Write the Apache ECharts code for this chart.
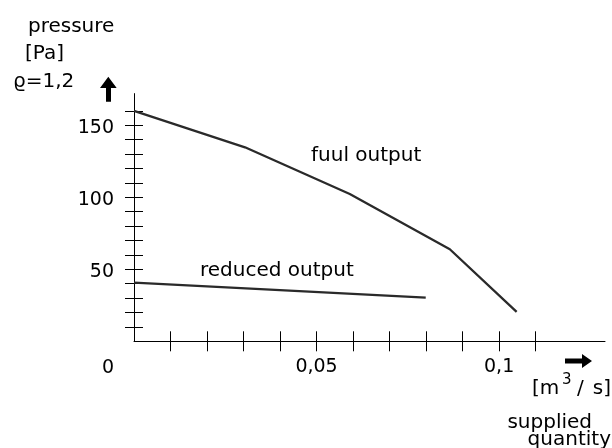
<!DOCTYPE html>
<html>
<head>
<meta charset="utf-8">
<script src="https://cdn.jsdelivr.net/npm/echarts@6/dist/echarts.min.js"></script>
<style>html,body{margin:0;padding:0;background:#fff}#c{width:612px;height:448px}</style>
</head>
<body>
<div id="c"></div>
<script>
// Data
var fullFlow = [0, 0.0304, 0.0591, 0.0865, 0.1048];
var fullPressure = [160, 134.7, 102.3, 63.9, 20.4];
var reducedFlow = [0, 0.0799];
var reducedPressure = [40.7, 30.3];
var yTicks = [10,20,30,40,50,60,70,80,90,100,110,120,130,140,150,160];
var yLabels = [50, 100, 150];
var xTicks = [0.01,0.02,0.03,0.04,0.05,0.06,0.07,0.08,0.09,0.1,0.11];
var xLabels = [0.05, 0.1];

var FONT = 'DejaVu Sans';
var chart = echarts.init(document.getElementById('c'), null, {renderer: 'canvas'});

function pairs(xs, ys) { return xs.map(function (x, i) { return [x, ys[i]]; }); }

var lineStyleAxis = {color: '#000', width: 1};
function T(extra) { return Object.assign({fontFamily: FONT, fontSize: 20, fill: '#000'}, extra); }

chart.setOption({
  animation: false,
  backgroundColor: '#fff',
  grid: {left: 134, right: 7, top: 93.6, bottom: 106.7},
  xAxis: [
    {type: 'value', min: 0, max: 0.129, position: 'bottom',
     axisLine: {show: true, lineStyle: lineStyleAxis},
     axisTick: {show: true, inside: false, length: 10, customValues: xTicks, lineStyle: lineStyleAxis},
     axisLabel: {show: true, customValues: xLabels, margin: 16, fontFamily: FONT, fontSize: 19, color: '#000',
       formatter: function (v) { return String(+v.toFixed(3)).replace('.', ','); }},
     splitLine: {show: false}},
    {type: 'value', min: 0, max: 0.129, position: 'bottom', offset: 0,
     axisLine: {show: false},
     axisTick: {show: true, inside: true, length: 10, customValues: xTicks, lineStyle: lineStyleAxis},
     axisLabel: {show: false}, splitLine: {show: false}}
  ],
  yAxis: [
    {type: 'value', min: 0, max: 172, position: 'left',
     axisLine: {show: true, lineStyle: lineStyleAxis},
     axisTick: {show: true, inside: false, length: 9, customValues: yTicks, lineStyle: lineStyleAxis},
     axisLabel: {show: true, customValues: yLabels, margin: 20, fontFamily: FONT, fontSize: 19, color: '#000',
       formatter: function (v) { return '{a|' + v + '}'; },
       rich: {a: {fontFamily: FONT, fontSize: 19, color: '#000', padding: [6, 0, 0, 0]}}},
     splitLine: {show: false}},
    {type: 'value', min: 0, max: 172, position: 'left', offset: 0,
     axisLine: {show: false},
     axisTick: {show: true, inside: true, length: 9, customValues: yTicks, lineStyle: lineStyleAxis},
     axisLabel: {show: false}, splitLine: {show: false}}
  ],
  series: [
    {type: 'line', name: 'fuul output', data: pairs(fullFlow, fullPressure), symbol: 'none',
     lineStyle: {color: '#2a2a2a', width: 2.3}},
    {type: 'line', name: 'reduced output', data: pairs(reducedFlow, reducedPressure), symbol: 'none',
     lineStyle: {color: '#2a2a2a', width: 2.3}}
  ],
  graphic: [
    {type: 'text', x: 28, y: 27, style: T({text: 'pressure', verticalAlign: 'middle'})},
    {type: 'text', x: 25, y: 54, style: T({text: '[Pa]', verticalAlign: 'middle'})},
    {type: 'text', x: 13, y: 82, style: T({text: 'ϱ=1,2', verticalAlign: 'middle'})},
    {type: 'text', x: 108, y: 368, style: T({text: '0', fontSize: 19, align: 'center', verticalAlign: 'middle'})},
    {type: 'text', x: 311, y: 156, style: T({text: 'fuul output', verticalAlign: 'middle'})},
    {type: 'text', x: 200, y: 271, style: T({text: 'reduced output', verticalAlign: 'middle'})},
    {type: 'text', x: 532, y: 389, style: T({text: '[m', verticalAlign: 'middle'})},
    {type: 'text', x: 562, y: 380, style: T({text: '3', fontSize: 15, verticalAlign: 'middle'})},
    {type: 'text', x: 577, y: 389, style: T({text: '/', verticalAlign: 'middle'})},
    {type: 'text', x: 611, y: 389, style: T({text: 's]', align: 'right', verticalAlign: 'middle'})},
    {type: 'text', x: 592, y: 423, style: T({text: 'supplied', align: 'right', verticalAlign: 'middle'})},
    {type: 'text', x: 611, y: 440, style: T({text: 'quantity', align: 'right', verticalAlign: 'middle'})},
    {type: 'polygon', shape: {points: [[108.3,76.7],[100,88],[106,88],[106,101.7],[111,101.7],[111,88],[116.7,88]]},
     style: {fill: '#000'}},
    {type: 'polygon', shape: {points: [[565,358.5],[582,358.5],[582,354],[592,361],[582,368],[582,363.5],[565,363.5]]},
     style: {fill: '#000'}}
  ]
});
</script>
</body>
</html>
